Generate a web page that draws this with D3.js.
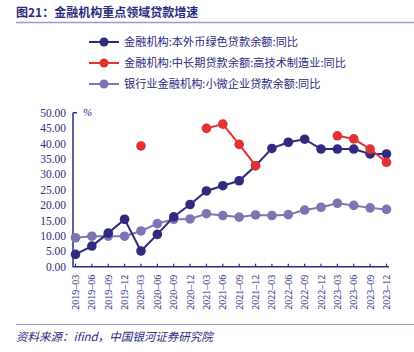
<!DOCTYPE html>
<html lang="zh">
<head>
<meta charset="UTF-8">
<title>金融机构重点领域贷款增速</title>
<script src="https://cdn.jsdelivr.net/npm/d3@7"></script>
<style>
  body { margin: 0; background: #fff; }
  svg { display: block; }
</style>
</head>
<body>
<script>
// data
const months = ['2019-03','2019-06','2019-09','2019-12','2020-03','2020-06','2020-09','2020-12',
  '2021-03','2021-06','2021-09','2021-12','2022-03','2022-06','2022-09','2022-12',
  '2023-03','2023-06','2023-09','2023-12'];
const greenLoan = [4.0, 6.7, 10.9, 15.4, 5.1, 10.5, 16.2, 20.2, 24.6, 26.3, 27.9, 32.8,
  38.4, 40.4, 41.4, 38.2, 38.2, 38.2, 36.6, 36.6];
const hiTechLoan = [null, null, null, null, 39.2, null, null, null, 44.9, 46.3, 39.7, 32.8,
  null, null, null, null, 42.5, 41.5, 38.2, 33.9];
const smallLoan = [9.4, 9.9, 9.9, 9.9, 11.6, 14.0, 15.4, 15.5, 17.2, 16.6, 16.1, 16.8,
  16.6, 16.9, 18.4, 19.3, 20.6, 19.9, 19.1, 18.6];
const seriesNames = ['金融机构:本外币绿色贷款余额:同比', '金融机构:中长期贷款余额:高技术制造业:同比', '银行业金融机构:小微企业贷款余额:同比'];
const yTicks = [0, 5, 10, 15, 20, 25, 30, 35, 40, 45, 50];

const W = 414, H = 352;
const navy = '#2b2a80';
const colors = ['#2f2a7e', '#e23232', '#7d74b1'];
const serif = '"Liberation Serif", "Times New Roman", serif';
const cjk = '"Noto Sans CJK SC", sans-serif';

const svg = d3.select('body').append('svg').attr('width', W).attr('height', H);

// title
svg.append('text').attr('x', 16).attr('y', 17)
  .attr('font-family', cjk).attr('font-size', 12).attr('font-weight', 'bold')
  .attr('fill', navy).text('图21：金融机构重点领域贷款增速');
svg.append('line').attr('x1', 16).attr('x2', W).attr('y1', 22.5).attr('y2', 22.5)
  .attr('stroke', '#9c98cc').attr('stroke-width', 1.5);

// legend
const legend = svg.append('g');
seriesNames.forEach((name, i) => {
  const y = 42 + i * 21;
  legend.append('line').attr('x1', 89).attr('x2', 119).attr('y1', y).attr('y2', y)
    .attr('stroke', colors[i]).attr('stroke-width', 2);
  legend.append('circle').attr('cx', 104).attr('cy', y).attr('r', 4.5).attr('fill', colors[i]);
  legend.append('text').attr('x', 124).attr('y', y + 4)
    .attr('font-family', cjk).attr('font-size', 11.2).attr('fill', navy).text(name);
});

// scales
const x = d3.scalePoint().domain(months).range([75.5, 386.5]);
const y = d3.scaleLinear().domain([0, 50]).range([266.7, 112.7]);

// y axis labels
svg.append('g').selectAll('text').data(yTicks).join('text')
  .attr('x', 66).attr('y', d => y(d) + 4)
  .attr('text-anchor', 'end').attr('font-family', serif).attr('font-size', 11.5)
  .attr('fill', navy).text(d => d.toFixed(2));

svg.append('text').attr('x', 83).attr('y', 116).attr('font-family', serif)
  .attr('font-style', 'italic').attr('font-size', 11).attr('fill', navy).text('%');

// axes lines
svg.append('line').attr('x1', 73).attr('x2', 73).attr('y1', y(50)).attr('y2', y(0))
  .attr('stroke', navy).attr('stroke-width', 1.5);
svg.append('line').attr('x1', 73).attr('x2', 77).attr('y1', y(50)).attr('y2', y(50))
  .attr('stroke', navy).attr('stroke-width', 1.5);
svg.append('line').attr('x1', 72.5).attr('x2', 389).attr('y1', y(0)).attr('y2', y(0))
  .attr('stroke', navy).attr('stroke-width', 1.5);
svg.append('g').selectAll('line').data(months).join('line')
  .attr('x1', d => x(d)).attr('x2', d => x(d)).attr('y1', y(0)).attr('y2', y(0) - 3)
  .attr('stroke', navy).attr('stroke-width', 1.2);

// x labels
svg.append('g').selectAll('text').data(months).join('text')
  .attr('transform', d => `translate(${x(d) + 3.5},${y(0) + 8}) rotate(-90)`)
  .attr('text-anchor', 'end').attr('font-family', serif).attr('font-size', 10)
  .attr('fill', navy).text(d => d.replace('-', '–'));

// series
const allSeries = [greenLoan, hiTechLoan, smallLoan];
const line = d3.line().defined(d => d != null).x((d, i) => x(months[i])).y(d => y(d));
[2, 0, 1].forEach(k => {
  const vals = allSeries[k];
  const g = svg.append('g');
  g.append('path').datum(vals).attr('d', line).attr('fill', 'none')
    .attr('stroke', colors[k]).attr('stroke-width', 2);
  g.selectAll('circle').data(vals.map((v, i) => ({ v, i })).filter(d => d.v != null)).join('circle')
    .attr('cx', d => x(months[d.i])).attr('cy', d => y(d.v)).attr('r', 4.8)
    .attr('fill', colors[k]);
});

// source
svg.append('line').attr('x1', 16).attr('x2', W).attr('y1', 324.5).attr('y2', 324.5)
  .attr('stroke', '#9c98cc').attr('stroke-width', 1);
svg.append('text').attr('x', 16).attr('y', 341)
  .attr('font-family', cjk).attr('font-size', 11.5).attr('font-style', 'italic')
  .attr('fill', navy).text('资料来源：ifind，中国银河证券研究院');
</script>
</body>
</html>
